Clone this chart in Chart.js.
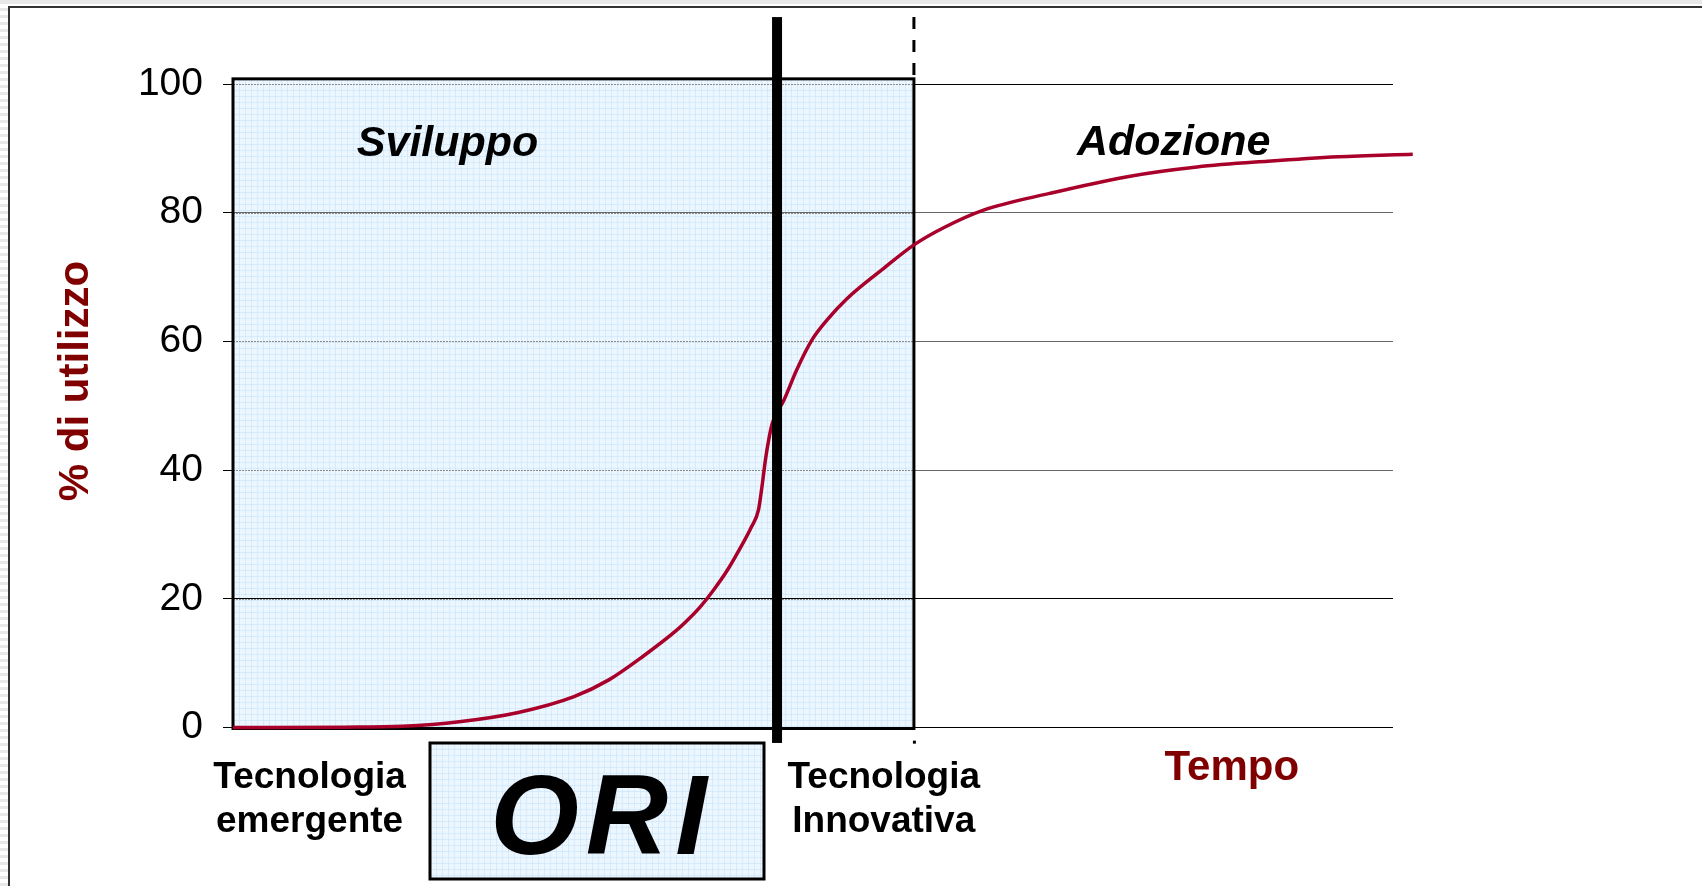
<!DOCTYPE html>
<html>
<head>
<meta charset="utf-8">
<script src="https://cdn.jsdelivr.net/npm/chart.js@4.4.1/dist/chart.umd.min.js"></script>
<style>
  html, body { margin: 0; padding: 0; background: #fff; }
  #wrap { width: 1702px; height: 886px; position: relative; }
</style>
</head>
<body>
<div id="wrap"><canvas id="c"></canvas></div>
<script>
// ---- data ----
const timeVals  = [0, 9.6, 14.6, 19.5, 24.5, 29.4, 32.4, 35.3, 38.3, 39.3, 40.3, 41.4, 42.6, 43.7, 44.7, 45.3, 45.6, 45.9, 46.2, 46.5, 47.5, 48.6, 49.9, 51.2, 52.9, 56.2, 58.7, 61.3, 64.7, 70.4, 77.1, 83.1, 89.2, 95.3, 101.7];
const usageVals = [0, 0.05, 0.2, 0.9, 2.3, 4.8, 7.4, 11.0, 15.2, 16.9, 18.8, 21.3, 24.4, 27.8, 31.2, 33.8, 37.4, 41.6, 44.9, 47.3, 50.9, 55.6, 60.2, 63.3, 66.6, 71.5, 75.0, 77.7, 80.4, 83.0, 85.6, 87.1, 88.0, 88.7, 89.1];
const yTicks = [0, 20, 40, 60, 80, 100];
const phaseBounds = [0, 46.9, 58.7];          // start, ORI boundary, end of "Sviluppo"
const phaseLabels = ['Sviluppo', 'Adozione'];
const stageLabels = [['Tecnologia', 'emergente'], ['Tecnologia', 'Innovativa']];
const boxLabel = 'ORI';
const yTitle = '% di utilizzo';
const xTitle = 'Tempo';

const FONT = "'Liberation Sans', Arial, Helvetica, sans-serif";
const DARKRED = '#800000';
const FILL = '#ecf6fe';

function patternFill(ctx, x, y, w, h) {
  ctx.save();
  ctx.fillStyle = FILL;
  ctx.fillRect(x, y, w, h);
  ctx.beginPath();
  ctx.rect(x, y, w, h);
  ctx.clip();
  ctx.strokeStyle = 'rgba(200,225,245,0.55)';
  ctx.lineWidth = 1;
  ctx.beginPath();
  for (let xx = Math.floor(x) + 0.5; xx < x + w; xx += 6) { ctx.moveTo(xx, y); ctx.lineTo(xx, y + h); }
  for (let yy = Math.floor(y) + 0.5; yy < y + h; yy += 6) { ctx.moveTo(x, yy); ctx.lineTo(x + w, yy); }
  ctx.stroke();
  ctx.restore();
}

const annot = {
  id: 'annot',
  beforeDraw(chart) {
    const { ctx, width, height } = chart;
    const xs = chart.scales.x, ys = chart.scales.y;
    ctx.save();
    ctx.fillStyle = '#fff';
    ctx.fillRect(0, 0, width, height);
    // slide edge decoration
    ctx.fillStyle = '#e8e8e8';
    ctx.fillRect(0, 0, width, 4);
    for (let yy = 8; yy < height; yy += 7) { ctx.fillRect(0, yy, 8, 3); }
    ctx.strokeStyle = '#333';
    ctx.lineWidth = 2;
    ctx.beginPath();
    ctx.moveTo(9, height); ctx.lineTo(9, 7); ctx.lineTo(width, 7);
    ctx.stroke();
    // shaded development region
    const L = xs.getPixelForValue(phaseBounds[0]);
    const R = xs.getPixelForValue(phaseBounds[2]);
    const T = ys.getPixelForValue(100.8);
    const B = ys.getPixelForValue(0);
    patternFill(ctx, L, T, R - L, B - T);
    ctx.restore();
  },
  beforeDatasetsDraw(chart) {
    const { ctx } = chart;
    const xs = chart.scales.x, ys = chart.scales.y;
    const L = xs.getPixelForValue(phaseBounds[0]);
    const R = xs.getPixelForValue(phaseBounds[2]);
    const T = ys.getPixelForValue(100.8);
    const B = ys.getPixelForValue(0);
    ctx.save();
    // grid lines inside the shaded area: lighter, dotted
    yTicks.forEach(v => {
      if (v === 0) return;
      const y = Math.round(ys.getPixelForValue(v)) + 0.5;
      ctx.setLineDash([]);
      ctx.strokeStyle = FILL; ctx.lineWidth = 1;
      ctx.beginPath(); ctx.moveTo(L, y); ctx.lineTo(R, y); ctx.stroke();
      ctx.setLineDash([2, 1]);
      ctx.strokeStyle = '#8a8a8a';
      ctx.beginPath(); ctx.moveTo(L, y); ctx.lineTo(R, y); ctx.stroke();
    });
    ctx.setLineDash([]);
    // border of shaded area
    ctx.strokeStyle = '#000';
    ctx.lineWidth = 3;
    ctx.strokeRect(L, T, R - L, B - T + 1);
    // dashed continuation above
    ctx.setLineDash([12, 11]);
    ctx.beginPath();
    ctx.moveTo(R, ys.getPixelForValue(110.4));
    ctx.lineTo(R, T);
    ctx.stroke();
    ctx.setLineDash([]);
    ctx.fillStyle = '#000';
    ctx.fillRect(R - 1, ys.getPixelForValue(-2.2) - 1, 3, 3);

    // phase labels
    ctx.fillStyle = '#000';
    ctx.textAlign = 'center';
    ctx.textBaseline = 'alphabetic';
    ctx.font = `italic bold 43px ${FONT}`;
    ctx.fillText(phaseLabels[0], xs.getPixelForValue(18.5), ys.getPixelForValue(88.8));
    ctx.font = `italic bold 43px ${FONT}`;
    ctx.fillText(phaseLabels[1], xs.getPixelForValue(81.1), ys.getPixelForValue(89.0));

    // stage labels below the axis
    ctx.font = `bold 37px ${FONT}`;
    const s1 = xs.getPixelForValue(6.6), s2 = xs.getPixelForValue(56.1);
    ctx.fillText(stageLabels[0][0], s1, 788);
    ctx.fillText(stageLabels[0][1], s1, 832);
    ctx.fillText(stageLabels[1][0], s2, 788);
    ctx.fillText(stageLabels[1][1], s2, 832);

    // ORI box
    patternFill(ctx, 430, 743, 334, 136);
    ctx.strokeStyle = '#000';
    ctx.lineWidth = 3;
    ctx.strokeRect(430, 743, 334, 136);
    ctx.fillStyle = '#000';
    ctx.font = `italic bold 114px ${FONT}`;
    try { ctx.letterSpacing = '7px'; } catch (e) {}
    ctx.fillText(boxLabel, 602, 854);
    try { ctx.letterSpacing = '0px'; } catch (e) {}

    // x title
    ctx.fillStyle = DARKRED;
    ctx.font = `bold 42px ${FONT}`;
    ctx.fillText(xTitle, xs.getPixelForValue(86.1), 780);

    // y title
    ctx.save();
    ctx.translate(76, 381);
    ctx.rotate(-Math.PI / 2);
    ctx.textBaseline = 'middle';
    ctx.font = `bold 42px ${FONT}`;
    ctx.fillText(yTitle, 0, 0);
    ctx.restore();
    ctx.restore();
  },
  afterDatasetsDraw(chart) {
    const { ctx } = chart;
    const xs = chart.scales.x, ys = chart.scales.y;
    const X = xs.getPixelForValue(phaseBounds[1]);
    ctx.save();
    ctx.fillStyle = '#000';
    const top = ys.getPixelForValue(110.4), bot = ys.getPixelForValue(-2.4);
    ctx.fillRect(X - 5, top, 10, bot - top);
    ctx.restore();
  }
};

new Chart(document.getElementById('c'), {
  type: 'line',
  data: {
    datasets: [{
      data: timeVals.map((t, i) => ({ x: t, y: usageVals[i] })),
      borderColor: '#a8002a',
      borderWidth: 3.5,
      pointRadius: 0,
      fill: false,
      clip: false,
      cubicInterpolationMode: 'monotone'
    }]
  },
  options: {
    responsive: true,
    maintainAspectRatio: false,
    animation: false,
    events: [],
    layout: { padding: { left: 0, right: 309, top: 84, bottom: 158.5 } },
    plugins: { legend: { display: false }, tooltip: { enabled: false } },
    scales: {
      x: { type: 'linear', min: 0, max: 100, display: false },
      y: {
        type: 'linear', min: 0, max: 100,
        afterBuildTicks: s => { s.ticks = yTicks.map(v => ({ value: v })); },
        afterFit: s => { s.width = 233; },
        border: { display: false },
        grid: {
          color: c => (c.tick && (c.tick.value === 100 || c.tick.value === 20 || c.tick.value === 0)) ? '#000' : '#666',
          lineWidth: 1,
          drawTicks: true,
          tickLength: 10,
          tickColor: '#000'
        },
        ticks: {
          color: '#000',
          padding: 20,
          font: { family: FONT, size: 39 }
        }
      }
    }
  },
  plugins: [annot]
});
</script>
</body>
</html>
